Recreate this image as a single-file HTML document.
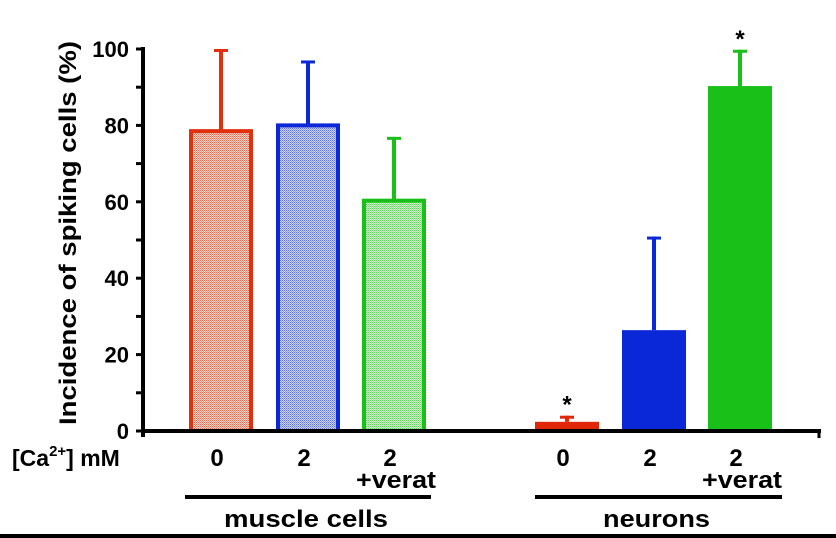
<!DOCTYPE html>
<html><head><meta charset="utf-8"><style>
html,body{margin:0;padding:0;background:#fff;}
svg{display:block;font-family:"Liberation Sans",Arial,sans-serif;font-weight:bold;}
</style></head><body>
<svg id="chart" width="836" height="538" viewBox="0 0 836 538" xmlns="http://www.w3.org/2000/svg">
<defs>
<pattern id="pr" width="2" height="2" patternUnits="userSpaceOnUse"><rect width="2" height="2" fill="#f9d2c8"/><rect width="1" height="1" fill="#e06a50"/><rect x="1" y="1" width="1" height="1" fill="#ec9a86"/></pattern>
<pattern id="pb" width="2" height="2" patternUnits="userSpaceOnUse"><rect width="2" height="2" fill="#d0d6f6"/><rect width="1" height="1" fill="#5a6ee0"/><rect x="1" y="1" width="1" height="1" fill="#8d9cec"/></pattern>
<pattern id="pg" width="2" height="2" patternUnits="userSpaceOnUse"><rect width="2" height="2" fill="#d6f4d2"/><rect width="1" height="1" fill="#5ccf56"/><rect x="1" y="1" width="1" height="1" fill="#96e090"/></pattern>
</defs>
<g id="marks"></g>
</svg>
<script>
const categories = ["muscle-0","muscle-2","muscle-2-verat","neuron-0","neuron-2","neuron-2-verat"];
const values = [78.5, 80, 60.3, 2.4, 26.4, 90.3];
const errors = [21.5, 17, 16.7, 1.6, 24.5, 9.5];
const yTicks = [0,20,40,60,80,100];
const stars = [false,false,false,true,false,true];

const NS="http://www.w3.org/2000/svg";
const g=document.getElementById('marks');
const y0=431, yTop=49;
function y(v){return y0-(v/100)*(y0-yTop);}
const barLeft=[189,276,362,535,622,708];
const barW=64;
const colors=["#e0300e","#0a28d8","#18c018","#e02808","#0a28d8","#18c018"];
const fills=["url(#pr)","url(#pb)","url(#pg)","#e02808","#0a28d8","#18c018"];
function mk(tag,attrs,parent){const e=document.createElementNS(NS,tag);for(const k in attrs)e.setAttribute(k,attrs[k]);(parent||g).appendChild(e);return e;}

categories.forEach((c,i)=>{
  const x=barLeft[i], top=y(values[i]), et=y(values[i]+errors[i]);
  const cx=x+barW/2;
  const err=mk('line',{x1:cx,x2:cx,y1:top,y2:et,stroke:colors[i],'stroke-width':4});
  
  
  const cap=mk('line',{x1:cx-7,x2:cx+7,y1:et+1.5,y2:et+1.5,stroke:colors[i],'stroke-width':3});
  
  
  const outlined=i<3;
  const r=mk('rect',outlined?{x:x+2,y:top,width:barW-4,height:y0-top,fill:fills[i],stroke:colors[i],'stroke-width':4}:{x:x,y:top,width:barW,height:y0-top,fill:fills[i]});
  
  
  if(stars[i]){
    const s=mk('text',{x:cx,y:et-3,'text-anchor':'middle','font-size':24,fill:'#000'});
    s.textContent='*';
    
    
  }
});

const ya=mk('line',{x1:143,x2:143,y1:47,y2:437,stroke:'#000','stroke-width':4});


const xa=mk('line',{x1:141,x2:821,y1:431,y2:431,stroke:'#000','stroke-width':4});


const xe=mk('line',{x1:819,x2:819,y1:431,y2:438,stroke:'#000','stroke-width':3});


for(let v=0;v<=100;v+=10){
  const t=mk('line',{x1:136,x2:143,y1:y(v),y2:y(v),stroke:'#000','stroke-width':3});
  
  
}
yTicks.forEach(v=>{
  const t=mk('text',{x:129,y:y(v)+8,'text-anchor':'end','font-size':22,fill:'#000'});
  t.textContent=String(v);
  
  
});
const yt=mk('text',{transform:'translate(76,233) rotate(-90)','text-anchor':'middle','font-size':24,fill:'#000',textLength:384,lengthAdjust:'spacingAndGlyphs'});
yt.textContent='Incidence of spiking cells (%)';



const ca=mk('text',{x:12,y:466,'font-size':23,fill:'#000'});
ca.innerHTML='[Ca<tspan font-size="15" dy="-10">2+</tspan><tspan dy="10">] mM</tspan>';


const labs=["0","2","2","0","2","2"];
labs.forEach((l,i)=>{
  const cx=barLeft[i]+barW/2;
  const t=mk('text',{x:cx-4,y:466,'text-anchor':'middle','font-size':24,fill:'#000'});
  t.textContent=l;
  
  
  if(i==2||i==5){
    const v=mk('text',{x:cx+2,y:488,'text-anchor':'middle','font-size':24,fill:'#000',textLength:80,lengthAdjust:'spacingAndGlyphs'});
    v.textContent='+verat';
    
    
  }
});
const groups=[["muscle cells",185,431,164],["neurons",535,782,107]];
groups.forEach(gp=>{
  const l=mk('line',{x1:gp[1],x2:gp[2],y1:497,y2:497,stroke:'#000','stroke-width':4});
  
  
  const t=mk('text',{x:(gp[1]+gp[2])/2-2,y:527,'text-anchor':'middle','font-size':24,fill:'#000',textLength:gp[3],lengthAdjust:'spacingAndGlyphs'});
  t.textContent=gp[0];
  
  
});
const b=mk('line',{x1:0,x2:836,y1:536,y2:536,stroke:'#000','stroke-width':4});


</script>
</body></html>
